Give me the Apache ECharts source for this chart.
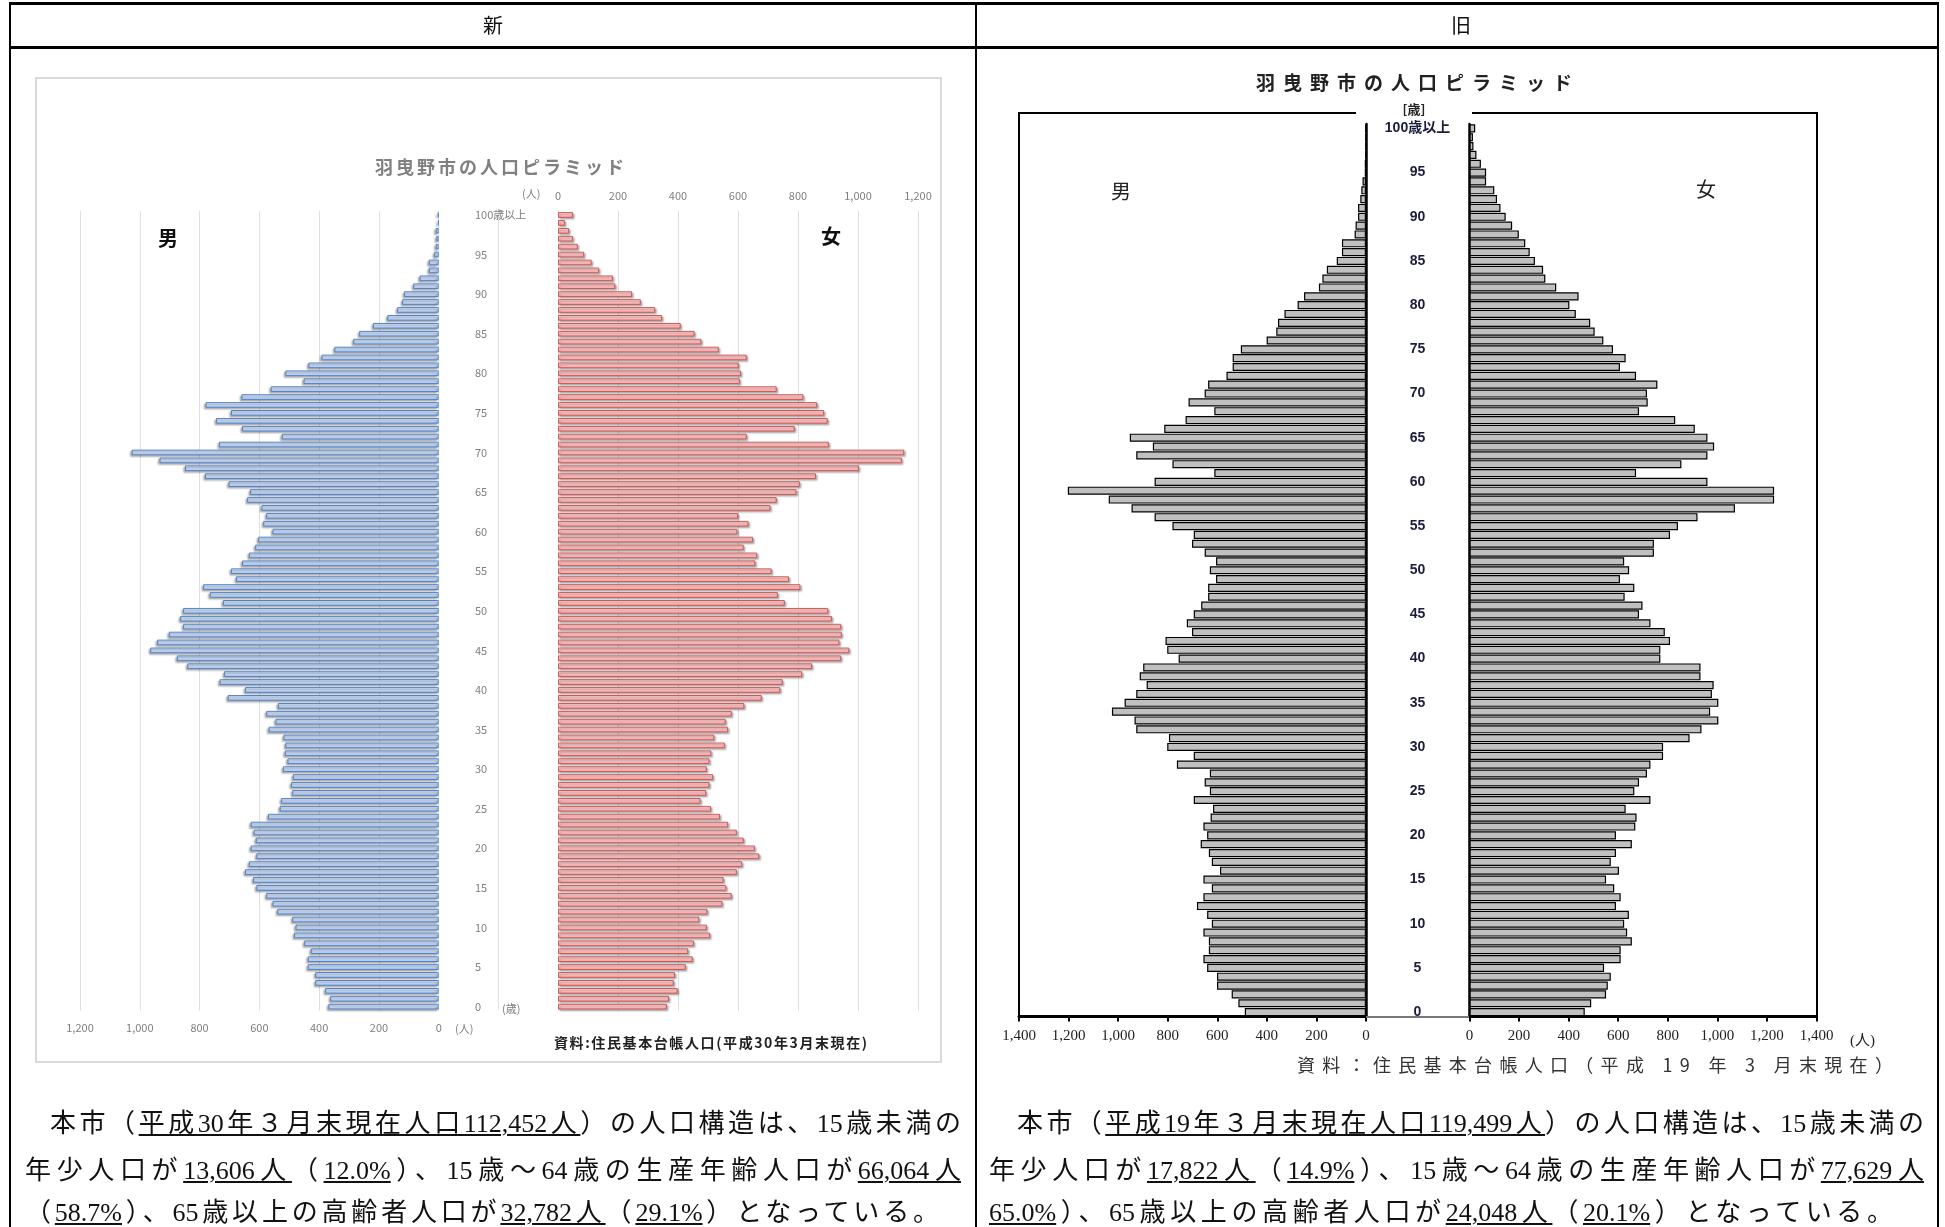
<!DOCTYPE html>
<html><head><meta charset="utf-8">
<script src="https://cdn.jsdelivr.net/npm/echarts@6/dist/echarts.min.js"></script>
<style>
html,body{margin:0;padding:0;background:#fff;width:1945px;height:1227px;overflow:hidden;}
#chart{position:absolute;left:0;top:0;width:1945px;height:1227px;}
.ov{position:absolute;pointer-events:none;}
.ln{position:absolute;background:#000;}
.t{position:absolute;white-space:nowrap;font-family:"Noto Sans CJK JP",sans-serif;}
.body{position:absolute;white-space:nowrap;font-family:"Liberation Serif","Noto Sans CJK JP",serif;font-size:26px;line-height:32px;color:#111;text-align:justify;text-align-last:justify;}
.body u{text-decoration:underline;text-decoration-thickness:2px;text-underline-offset:2px;}
</style></head>
<body>
<div id="chart"></div>
<div class="ov" style="left:0;top:0;width:1945px;height:1227px;">
  <!-- table lines -->
  <div class="ln" style="left:9px;top:2px;width:1930px;height:3px;"></div>
  <div class="ln" style="left:9px;top:46px;width:1930px;height:3px;"></div>
  <div class="ln" style="left:9px;top:2px;width:2px;height:1225px;"></div>
  <div class="ln" style="left:1937px;top:2px;width:2px;height:1225px;"></div>
  <div class="ln" style="left:975px;top:2px;width:2px;height:1225px;"></div>
  <div class="t" style="left:473px;top:10px;width:40px;text-align:center;font-size:20px;line-height:30px;color:#111;">新</div>
  <div class="t" style="left:1441px;top:10px;width:40px;text-align:center;font-size:20px;line-height:30px;color:#111;">旧</div>

  <!-- left chart frame and texts -->
  <div style="position:absolute;left:35px;top:77px;width:903px;height:982px;border:2px solid #d9d9d9;"></div>
  <div class="t" style="left:301px;top:152px;width:400px;text-align:center;font-size:18px;line-height:28px;font-weight:bold;color:#808080;letter-spacing:3px;">羽曳野市の人口ピラミッド</div>
  <div class="t" style="left:522px;top:185px;font-size:11px;line-height:16px;color:#7f7f7f;">(人)</div>
  <div class="t" style="left:455px;top:1020px;font-size:11px;line-height:16px;color:#7f7f7f;">(人)</div>
  <div class="t" style="left:502px;top:1000px;font-size:11px;line-height:16px;color:#7f7f7f;">(歳)</div>
  <div class="t" style="left:158px;top:222px;font-size:20px;line-height:32px;font-weight:bold;color:#111;">男</div>
  <div class="t" style="left:821px;top:220px;font-size:20px;line-height:32px;font-weight:bold;color:#111;">女</div>
  <div class="t" style="left:554px;top:1032px;font-size:14px;line-height:20px;font-weight:bold;color:#222;letter-spacing:1.6px;">資料:住民基本台帳人口(平成30年3月末現在)</div>

  <!-- right chart frame and texts -->
  <div class="t" style="left:1158px;top:67px;width:520px;text-align:center;font-size:19px;line-height:30px;font-weight:600;color:#222;letter-spacing:8px;">羽曳野市の人口ピラミッド</div>
  <div class="ln" style="left:1018px;top:112px;width:338px;height:2px;"></div>
  <div class="ln" style="left:1472px;top:112px;width:346px;height:2px;"></div>
  <div class="ln" style="left:1018px;top:112px;width:1.5px;height:905px;"></div>
  <div class="ln" style="left:1816px;top:112px;width:1.5px;height:905px;"></div>
  <div class="ln" style="left:1366px;top:1016px;width:103px;height:1.5px;background:#777;"></div>
  <div class="t" style="left:1396px;top:100px;width:36px;text-align:center;font-size:13px;line-height:18px;font-weight:bold;color:#222;">[歳]</div>
  <div class="t" style="left:1111px;top:175px;font-size:20px;line-height:32px;color:#222;">男</div>
  <div class="t" style="left:1696px;top:173px;font-size:20px;line-height:32px;color:#222;">女</div>
  <div class="t" style="left:1850px;top:1030px;font-family:'Liberation Serif','Noto Sans CJK JP',serif;font-size:15px;line-height:20px;color:#222;">(人)</div>
  <div class="t" style="left:1297px;top:1052px;font-size:18px;line-height:24px;color:#333;letter-spacing:7.3px;">資料：住民基本台帳人口（平成 19 年 3 月末現在）</div>

  <!-- body text left -->
  <div class="body" style="left:50px;top:1108px;width:911px;">本市（<u>平成30年３月末現在人口112,452人</u>）の人口構造は、15歳未満の</div>
  <div class="body" style="left:25px;top:1155px;width:936px;">年少人口が<u>13,606人</u>（<u>12.0%</u>）、15歳～64歳の生産年齢人口が<u>66,064人</u></div>
  <div class="body" style="left:25px;top:1197px;width:914px;">（<u>58.7%</u>）、65歳以上の高齢者人口が<u>32,782人</u>（<u>29.1%</u>）となっている。</div>
  <!-- body text right -->
  <div class="body" style="left:1017px;top:1108px;width:907px;">本市（<u>平成19年３月末現在人口119,499人</u>）の人口構造は、15歳未満の</div>
  <div class="body" style="left:989px;top:1155px;width:935px;">年少人口が<u>17,822人</u>（<u>14.9%</u>）、15歳～64歳の生産年齢人口が<u>77,629人</u></div>
  <div class="body" style="left:989px;top:1197px;width:904px;"><u>65.0%</u>）、65歳以上の高齢者人口が<u>24,048人</u>（<u>20.1%</u>）となっている。</div>
</div>
<script>
// ---------- DATA ----------
// ages 0 .. 100 (last = 100歳以上)
const ageLabels = ['0','1','2','3','4','5','6','7','8','9','10','11','12','13','14','15','16','17','18','19','20','21','22','23','24','25','26','27','28','29','30','31','32','33','34','35','36','37','38','39','40','41','42','43','44','45','46','47','48','49','50','51','52','53','54','55','56','57','58','59','60','61','62','63','64','65','66','67','68','69','70','71','72','73','74','75','76','77','78','79','80','81','82','83','84','85','86','87','88','89','90','91','92','93','94','95','96','97','98','99','100歳以上'];

// 新 (平成30年3月末) 男
const maleNew = [369,363,380,413,413,438,438,428,450,484,479,490,540,556,577,610,621,648,635,610,629,612,619,629,571,532,527,490,494,488,521,506,515,513,519,569,546,577,538,706,648,733,718,841,876,965,942,903,855,865,855,722,766,788,678,695,658,635,614,604,556,587,577,593,641,631,703,782,849,934,1027,735,525,658,745,695,780,660,562,452,513,436,392,349,286,266,220,172,139,122,116,85,64,33,33,15,10,8,10,2,3];
// 新 女
const femaleNew = [363,370,399,386,390,426,449,434,453,507,496,471,498,548,579,561,552,596,614,671,656,619,596,567,540,510,475,494,505,517,496,505,511,556,521,567,559,579,621,679,741,749,814,847,944,971,938,946,944,913,901,756,733,808,770,712,658,664,619,650,598,635,600,708,729,795,806,860,1003,1146,1154,903,629,789,899,887,864,818,729,606,610,602,629,536,478,455,409,347,324,276,247,191,183,137,112,87,66,50,37,23,50];
// 旧 (平成19年3月末) 男
const maleOld = [489,515,542,601,601,641,656,634,634,656,622,641,682,656,622,656,589,622,634,667,641,656,627,617,695,630,651,630,763,695,802,795,927,934,1025,974,927,885,913,899,756,802,809,702,723,695,665,637,637,605,630,605,651,702,695,781,853,946,1038,1203,853,612,781,927,860,953,814,728,612,716,651,637,563,538,538,505,401,362,355,329,276,250,190,176,158,118,97,97,46,42,32,32,23,19,14,5,5,2,1,1,2];
// 旧 女
const femaleOld = [465,491,551,558,570,543,610,610,655,636,624,643,591,610,584,551,603,570,591,655,591,669,674,630,730,665,684,716,730,781,781,888,936,1004,971,1004,978,985,932,932,770,770,809,788,730,684,698,626,665,607,644,624,744,744,809,841,920,1071,1229,1229,960,672,855,960,987,960,909,830,684,719,716,758,672,607,630,579,540,505,487,429,403,440,350,306,297,264,243,225,199,172,146,125,111,100,67,67,46,28,16,14,23];

const newTicks = [0,200,400,600,800,1000,1200];
const oldTicks = [0,200,400,600,800,1000,1200,1400];

// ---------- CHART ----------
const fmt = v => v >= 1000 ? (Math.floor(v/1000) + ',' + String(v%1000).padStart(3,'0')) : String(v);
const showAge = (i) => i % 5 === 0;
const chart = echarts.init(document.getElementById('chart'), null, {renderer:'canvas'});
const G = echarts.graphic.LinearGradient;
const sans = '"Noto Sans CJK JP", sans-serif';
const serif = '"Liberation Serif","Noto Sans CJK JP", serif';

chart.setOption({
  animation:false,
  backgroundColor:'transparent',
  grid:[
    {left:80, top:211, width:418.5, height:799.6},
    {left:558, top:211, width:360, height:799.6},
    {left:1019, top:124, width:347, height:892.5},
    {left:1469.5, top:124, width:347, height:892.5}
  ],
  xAxis:[
    {gridIndex:0, type:'value', inverse:true, min:-200, max:newTicks[newTicks.length-1], interval:200, position:'bottom',
     axisLine:{show:false}, axisTick:{show:false},
     splitLine:{show:true, lineStyle:{color:'#e0e0e0', width:1}},
     axisLabel:{formatter:v => v < 0 ? '' : fmt(v), color:'#7f7f7f', fontSize:11, fontFamily:sans, margin:12}},
    {gridIndex:1, type:'value', min:0, max:newTicks[newTicks.length-1], interval:200, position:'top',
     axisLine:{show:false}, axisTick:{show:false},
     splitLine:{show:true, lineStyle:{color:'#e0e0e0', width:1}},
     axisLabel:{formatter:fmt, color:'#7f7f7f', fontSize:11, fontFamily:sans, margin:10}},
    {gridIndex:2, type:'value', inverse:true, min:0, max:oldTicks[oldTicks.length-1], interval:200, position:'bottom',
     axisLine:{show:true, onZero:false, lineStyle:{color:'#000', width:3}},
     axisTick:{show:true, inside:false, length:5, lineStyle:{color:'#000', width:2}},
     splitLine:{show:false},
     axisLabel:{formatter:fmt, color:'#222', fontSize:15, fontFamily:serif, margin:12}},
    {gridIndex:3, type:'value', min:0, max:oldTicks[oldTicks.length-1], interval:200, position:'bottom',
     axisLine:{show:true, onZero:false, lineStyle:{color:'#000', width:3}},
     axisTick:{show:true, inside:false, length:5, lineStyle:{color:'#000', width:2}},
     splitLine:{show:false},
     axisLabel:{formatter:fmt, color:'#222', fontSize:15, fontFamily:serif, margin:12}}
  ],
  yAxis:[
    {gridIndex:0, type:'category', data:ageLabels, axisLine:{show:false}, axisTick:{show:false}, axisLabel:{show:false}},
    {gridIndex:1, type:'category', data:ageLabels, axisLine:{show:false}, axisTick:{show:false},
     axisLabel:{interval:showAge, align:'left', margin:83, color:'#7f7f7f', fontSize:11, fontFamily:sans}},
    {gridIndex:2, type:'category', data:ageLabels, position:'right',
     axisLine:{show:true, onZero:false, lineStyle:{color:'#000', width:2.5}}, axisTick:{show:false}, axisLabel:{show:false}},
    {gridIndex:3, type:'category', data:ageLabels, position:'left',
     axisLine:{show:true, onZero:false, lineStyle:{color:'#000', width:2.5}}, axisTick:{show:false},
     axisLabel:{interval:showAge, align:'center', margin:52, color:'#1c1c3c', fontSize:14, fontWeight:'bold', fontFamily:'"Liberation Sans","Noto Sans CJK JP",sans-serif'}}
  ],
  series:[
    {name:'男', type:'bar', xAxisIndex:0, yAxisIndex:0, data:maleNew, barCategoryGap:'28%',
     itemStyle:{color:new G(0,0,0,1,[{offset:0,color:'#eef4fd'},{offset:0.35,color:'#cfdff8'},{offset:1,color:'#aac5ef'}]),
       borderColor:'#5585c8', borderWidth:1, shadowColor:'rgba(0,0,0,0.3)', shadowBlur:2, shadowOffsetX:-1.5, shadowOffsetY:1.5}},
    {name:'女', type:'bar', xAxisIndex:1, yAxisIndex:1, data:femaleNew, barCategoryGap:'28%',
     itemStyle:{color:new G(0,0,0,1,[{offset:0,color:'#fff0f0'},{offset:0.35,color:'#ffcaca'},{offset:1,color:'#ffa3a3'}]),
       borderColor:'#d05a5a', borderWidth:1, shadowColor:'rgba(0,0,0,0.3)', shadowBlur:2, shadowOffsetX:1.5, shadowOffsetY:1.5}},
    {name:'男(旧)', type:'bar', xAxisIndex:2, yAxisIndex:2, data:maleOld, barCategoryGap:'8%',
     itemStyle:{color:'#c0c0c0', borderColor:'#000', borderWidth:1.2}},
    {name:'女(旧)', type:'bar', xAxisIndex:3, yAxisIndex:3, data:femaleOld, barCategoryGap:'8%',
     itemStyle:{color:'#c0c0c0', borderColor:'#000', borderWidth:1.2}}
  ]
});
</script>
</body></html>
